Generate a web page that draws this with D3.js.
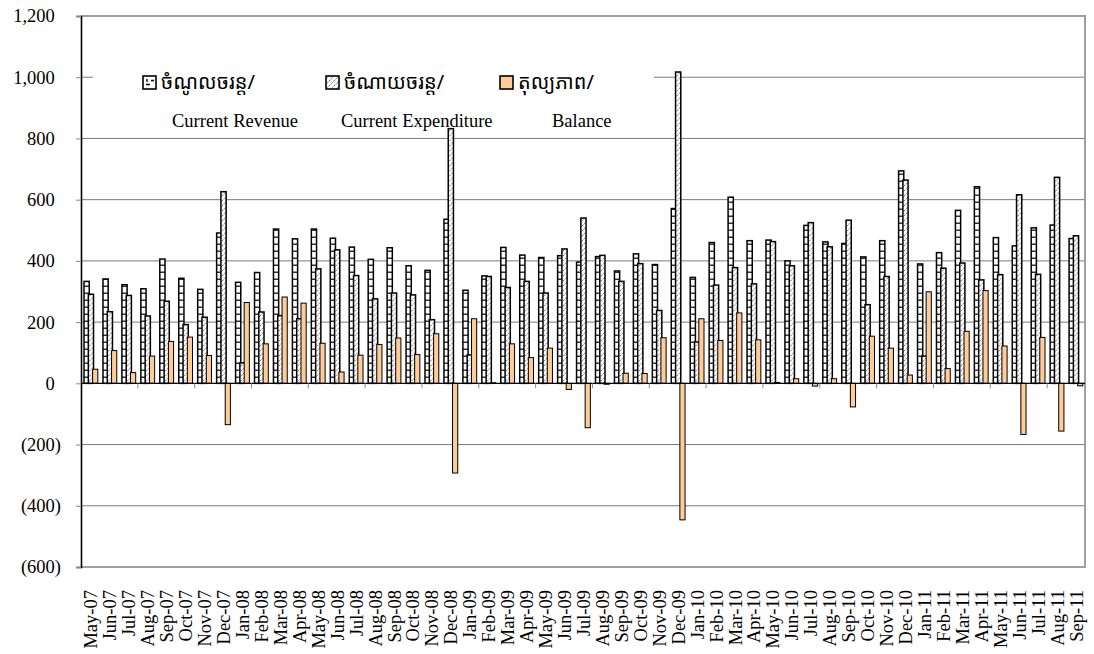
<!DOCTYPE html>
<html>
<head>
<meta charset="utf-8">
<script src="https://cdn.jsdelivr.net/npm/d3@7"></script>
<style>
  html, body { margin: 0; padding: 0; background: #fff; }
  svg { display: block; }
</style>
</head>
<body>
<svg id="chart" width="1094" height="654"></svg>
<script>
// ---------------- data ----------------
const months = [
  "May-07","Jun-07","Jul-07","Aug-07","Sep-07","Oct-07","Nov-07","Dec-07",
  "Jan-08","Feb-08","Mar-08","Apr-08","May-08","Jun-08","Jul-08","Aug-08","Sep-08","Oct-08","Nov-08","Dec-08",
  "Jan-09","Feb-09","Mar-09","Apr-09","May-09","Jun-09","Jul-09","Aug-09","Sep-09","Oct-09","Nov-09","Dec-09",
  "Jan-10","Feb-10","Mar-10","Apr-10","May-10","Jun-10","Jul-10","Aug-10","Sep-10","Oct-10","Nov-10","Dec-10",
  "Jan-11","Feb-11","Mar-11","Apr-11","May-11","Jun-11","Jul-11","Aug-11","Sep-11"
];
const revenue = [
  333,341,322,309,406,343,307,491,
  330,362,504,472,504,474,445,405,443,384,369,536,
  304,351,444,419,411,417,396,414,367,423,388,571,
  346,460,608,466,468,400,516,462,457,413,466,694,
  390,427,565,642,476,449,508,517,473
];
const expenditure = [
  291,234,287,220,268,192,216,626,
  67,233,221,211,374,436,352,276,295,289,208,832,
  93,349,313,333,295,439,540,418,333,391,238,1017,
  135,321,378,325,463,384,525,446,533,257,349,664,
  89,376,393,338,355,616,356,673,482
];
const balance = [
  46,107,35,89,137,151,91,-135,
  264,129,282,262,131,37,92,127,148,94,162,-293,
  211,2,129,84,115,-20,-145,-3,33,32,149,-446,
  211,140,230,142,3,15,-9,15,-77,154,115,27,
  299,48,170,303,122,-167,150,-156,-8
];
const yTicks = [-600,-400,-200,0,200,400,600,800,1000,1200];
const seriesKeys = ["rev","exp","bal"];
const legendKhmer = ["ចំណូលចរន្ត/","ចំណាយចរន្ត/","តុល្យភាព/"];
const legendEnglish = ["Current Revenue","Current Expenditure","Balance"];

// ---------------- setup ----------------
const svg = d3.select("#chart");
const serif = "'Liberation Serif','Times New Roman',serif";

const y = d3.scaleLinear().domain([-600, 1200]).range([567, 16]);
const x0 = d3.scaleBand().domain(months).range([81, 1085]).padding(0);
const bw = x0.bandwidth();
const x1 = d3.scaleBand().domain(seriesKeys).range([-0.34 * bw, 0.34 * bw]);
const sub = x1.bandwidth();

const rows = months.map((m, i) => ({ m, rev: revenue[i], exp: expenditure[i], bal: balance[i] }));

// patterns
const defs = svg.append("defs");
const pRev = defs.append("pattern")
  .attr("id", "pRev").attr("patternUnits", "userSpaceOnUse")
  .attr("x", x0(months[0]) + bw / 2 + x1("rev"))
  .attr("y", 0).attr("width", x0.step()).attr("height", 7);
pRev.append("rect").attr("width", x0.step()).attr("height", 7).attr("fill", "#fff");
pRev.append("rect").attr("x", 0).attr("y", 5.6).attr("width", x0.step()).attr("height", 1.2).attr("fill", "#000");
pRev.append("line").attr("x1", sub / 2 + 0.5).attr("x2", sub / 2 + 0.5).attr("y1", 0.5).attr("y2", 4.5)
  .attr("stroke", "#444").attr("stroke-width", 0.9);

const pExp = defs.append("pattern")
  .attr("id", "pExp").attr("patternUnits", "userSpaceOnUse")
  .attr("width", 5).attr("height", 5);
pExp.append("rect").attr("width", 5).attr("height", 5).attr("fill", "#fff");
pExp.append("path").attr("d", "M-1,6 L6,-1").attr("stroke", "#666").attr("stroke-width", 1).attr("stroke-dasharray", "2,1.2");

// legend revenue swatch pattern
const pLegRev = defs.append("pattern")
  .attr("id", "pLegRev").attr("patternUnits", "userSpaceOnUse")
  .attr("x", 143).attr("y", 76).attr("width", 13).attr("height", 13);
pLegRev.append("rect").attr("width", 13).attr("height", 13).attr("fill", "#fff");
pLegRev.append("path").attr("d", "M3,8.5 H7 M8,4.5 H11 M4,3 V6").attr("stroke", "#000").attr("stroke-width", 1.3);

// ---------------- gridlines ----------------
svg.append("g").selectAll("line.grid")
  .data(yTicks.filter(v => v !== 0 && v !== 1200 && v !== -600))
  .join("line")
  .attr("x1", 81).attr("x2", 1085)
  .attr("y1", d => y(d)).attr("y2", d => y(d))
  .attr("stroke", "#7a7a7a").attr("stroke-width", 1);

// plot border (top, right, bottom)
svg.append("path")
  .attr("d", `M81,${y(1200)} H1085 V${y(-600)} H81`)
  .attr("fill", "none").attr("stroke", "#a0a0a0").attr("stroke-width", 2);

// legend background (covers gridline)
svg.append("rect").attr("x", 93).attr("y", 52).attr("width", 561).attr("height", 80).attr("fill", "#fff");

// ---------------- bars ----------------
const fills = { rev: "url(#pRev)", exp: "url(#pExp)", bal: "#FFCC99" };
const groups = svg.append("g").selectAll("g.cat").data(rows).join("g")
  .attr("transform", d => `translate(${x0(d.m) + bw / 2},0)`);

groups.selectAll("rect")
  .data(d => seriesKeys.map(k => ({ k, v: d[k] })))
  .join("rect")
  .attr("x", d => x1(d.k))
  .attr("width", sub + 0.9)
  .attr("y", d => y(Math.max(0, d.v)))
  .attr("height", d => Math.max(0.8, Math.abs(y(d.v) - y(0))))
  .attr("fill", d => fills[d.k])
  .attr("stroke", "#000")
  .attr("stroke-width", d => d.k === "bal" ? 1 : 1.5);

// zero line
svg.append("line").attr("x1", 81).attr("x2", 1085).attr("y1", y(0)).attr("y2", y(0))
  .attr("stroke", "#000").attr("stroke-width", 1.3);

// x tick marks (every 3 categories)
svg.append("g").selectAll("line")
  .data(months.filter((m, i) => i > 0 && i % 3 === 0))
  .join("line")
  .attr("x1", d => x0(d)).attr("x2", d => x0(d))
  .attr("y1", y(0)).attr("y2", y(0) + 5)
  .attr("stroke", "#8a8a8a").attr("stroke-width", 1);

// x labels
svg.append("g").selectAll("text")
  .data(months)
  .join("text")
  .attr("transform", d => `translate(${x0(d) + bw / 2 + 0.5},590) rotate(-90)`)
  .attr("text-anchor", "end")
  .attr("dy", "0.35em")
  .attr("font-family", serif)
  .attr("font-size", 18.5)
  .attr("fill", "#000")
  .text(d => d);

// ---------------- y axis ----------------
const fmtNum = d3.format(",");
const yAxis = d3.axisLeft(y).tickValues(yTicks).tickSize(5).tickPadding(15)
  .tickFormat(v => v < 0 ? "(" + fmtNum(-v) + ")" : fmtNum(v));
const gy = svg.append("g").attr("transform", "translate(81,0)").call(yAxis);
gy.select(".domain").attr("stroke", "#000").attr("stroke-width", 1.6);
gy.selectAll(".tick line").attr("stroke", "#888");
gy.selectAll(".tick text")
  .attr("font-family", serif).attr("font-size", 18.5).attr("fill", "#000")
  .attr("dx", d => d < 0 ? 0 : -6.2);

// ---------------- legend ----------------
const legX = [143, 326, 500];
const legFills = ["url(#pLegRev)", "url(#pExp)", "#FFCC99"];
const leg = svg.append("g");
legX.forEach((lx, i) => {
  leg.append("rect").attr("x", lx).attr("y", 76).attr("width", 13).attr("height", 13)
    .attr("fill", legFills[i]).attr("stroke", "#000").attr("stroke-width", 1.6);
  leg.append("text").attr("x", lx + 18).attr("y", 82).attr("dy", "0.35em")
    .attr("font-family", "'Khmer OS','Noto Sans Khmer','Khmer OS System','DejaVu Sans',sans-serif")
    .attr("font-size", 20).attr("fill", "#000").text(legendKhmer[i]);
});
const engX = [172, 341, 552];
legendEnglish.forEach((t, i) => {
  leg.append("text").attr("x", engX[i]).attr("y", 127)
    .attr("font-family", serif).attr("font-size", 18.5).attr("fill", "#000").text(t);
});
</script>
</body>
</html>
